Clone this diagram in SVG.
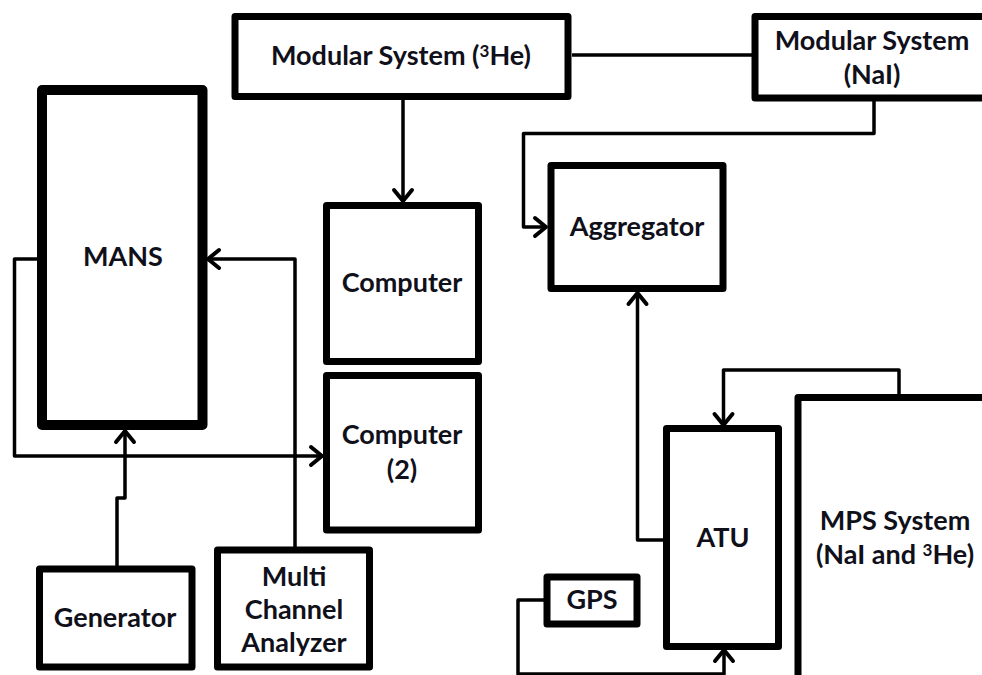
<svg xmlns="http://www.w3.org/2000/svg" width="982" height="675" viewBox="0 0 982 675">
<style>
.box{fill:#fff;stroke:#000;stroke-width:7;stroke-linejoin:round}
.thick{stroke-width:10}
.con{fill:none;stroke:#000;stroke-width:3.5;stroke-linejoin:round}
.lbl{font-family:Lato,"Liberation Sans",sans-serif;font-weight:bold;font-size:27px;fill:#10101a;text-anchor:middle}
.sup{font-size:17px}
</style>
<defs>
<marker id="arr" markerUnits="userSpaceOnUse" markerWidth="30" markerHeight="30" viewBox="-15 -15 30 30" refX="0" refY="0" orient="auto">
<path d="M-11,-9 L0,0 L-11,9" fill="none" stroke="#000" stroke-width="4" stroke-linecap="round" stroke-linejoin="round"/>
</marker>
</defs>
<rect width="982" height="675" fill="#fff"/>
<g id="connectors">
<path class="con" d="M572,55 H752"/>
<path class="con" d="M403,100 V201" marker-end="url(#arr)"/>
<path class="con" d="M874,101 V133.5 H523.5 V227 H546" marker-end="url(#arr)"/>
<path class="con" d="M295,548 V259 H208" marker-end="url(#arr)"/>
<path class="con" d="M37,259 H14.5 V456 H322" marker-end="url(#arr)"/>
<path class="con" d="M117,566 V498 H125 V431" marker-end="url(#arr)"/>
<path class="con" d="M663,540 H637.5 V293" marker-end="url(#arr)"/>
<path class="con" d="M899,395 V370 H723.5 V425" stroke="#2a0404" marker-end="url(#arr)"/>
<path class="con" d="M544,600 H518 V674 H724 V650" marker-end="url(#arr)"/>
</g>
<g id="modular-3he">
<rect class="box" x="235" y="16.5" width="333" height="80"/>
<text class="lbl" x="401" y="65">Modular System (<tspan class="sup" baseline-shift="8">3</tspan>He)</text>
</g>
<g id="modular-nai">
<rect class="box" x="755" y="16.5" width="240" height="81.5"/>
<text class="lbl" x="872" y="50">Modular System</text>
<text class="lbl" x="872" y="84">(NaI)</text>
</g>
<g id="mans">
<rect class="box thick" x="42" y="90" width="160.5" height="335"/>
<text class="lbl" x="123" y="266">MANS</text>
</g>
<g id="computer">
<rect class="box" x="326.5" y="205.5" width="152" height="156"/>
<text class="lbl" x="402" y="292">Computer</text>
</g>
<g id="computer2">
<rect class="box" x="326.5" y="375.5" width="152" height="154.5"/>
<text class="lbl" x="402" y="444">Computer</text>
<text class="lbl" x="402" y="479">(2)</text>
</g>
<g id="aggregator">
<rect class="box" x="551" y="165.5" width="172" height="123"/>
<text class="lbl" x="637" y="236">Aggregator</text>
</g>
<g id="atu">
<rect class="box" x="666.5" y="428.5" width="112" height="218"/>
<text class="lbl" x="723" y="547">ATU</text>
</g>
<g id="mps">
<rect class="box" x="798" y="397.5" width="200" height="300"/>
<text class="lbl" x="895" y="530">MPS System</text>
<text class="lbl" x="895" y="564">(NaI and <tspan class="sup" baseline-shift="8">3</tspan>He)</text>
</g>
<g id="gps">
<rect class="box" x="547" y="577" width="90" height="47"/>
<text class="lbl" x="592" y="609">GPS</text>
</g>
<g id="generator">
<rect class="box" x="39.5" y="569" width="152.5" height="98"/>
<text class="lbl" x="115" y="627">Generator</text>
</g>
<g id="mca">
<rect class="box" x="217.5" y="550" width="152" height="117"/>
<text class="lbl" x="294" y="586">Multi</text>
<text class="lbl" x="294" y="619">Channel</text>
<text class="lbl" x="294" y="652">Analyzer</text>
</g>
</svg>
